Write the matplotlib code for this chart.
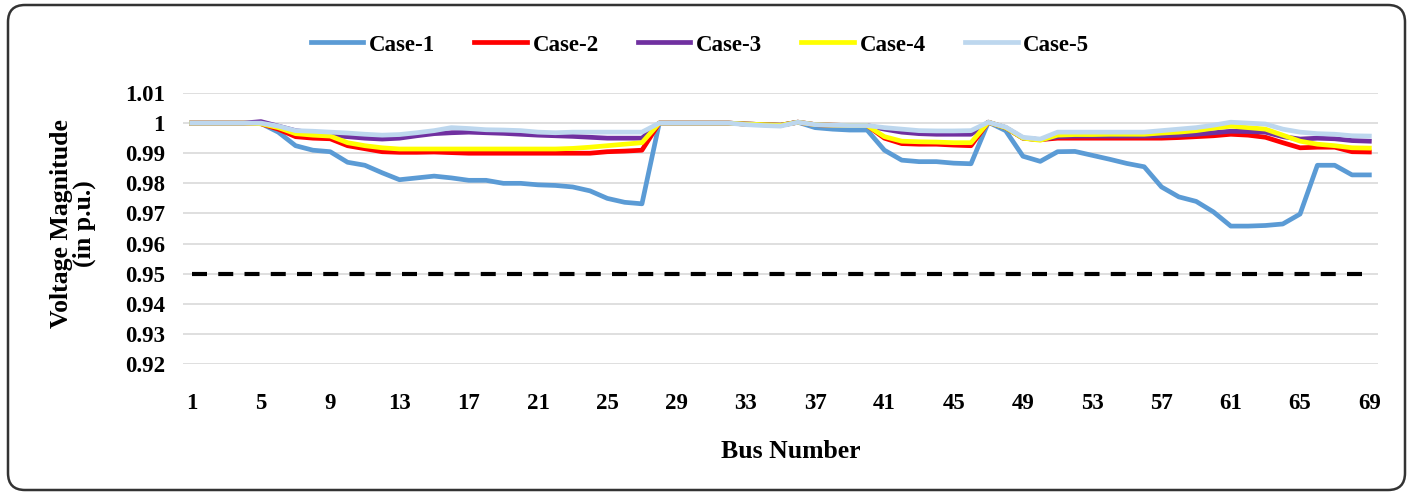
import numpy as np
import matplotlib.pyplot as plt
from matplotlib.patches import FancyBboxPatch

plt.rcParams['font.family'] = ['Liberation Serif', 'DejaVu Serif']
plt.rcParams['font.weight'] = 'bold'

# Bus numbers of the 69-bus system
bus = np.arange(1, 70)
xtick_buses = list(range(1, 70, 4))
ytick_vals = [0.92, 0.93, 0.94, 0.95, 0.96, 0.97, 0.98, 0.99, 1.00, 1.01]

# Voltage magnitudes (p.u.)
case1 = [1.0, 1.0, 1.0, 1.0, 0.9999, 0.997, 0.9925, 0.991, 0.9905, 0.987,
         0.986, 0.9835, 0.9812, 0.9818, 0.9824, 0.9818, 0.981, 0.981, 0.980, 0.980,
         0.9795, 0.9793, 0.9788, 0.9775, 0.975, 0.9737, 0.9732, 1.0, 1.0, 1.0,
         1.0, 1.0, 0.9997, 0.9995, 0.9993, 1.0003, 0.9985, 0.998, 0.9977, 0.9977,
         0.991, 0.9877, 0.9872, 0.9872, 0.9867, 0.9865, 1.0003, 0.9975, 0.989, 0.9873,
         0.9905, 0.9906, 0.9893, 0.988, 0.9866, 0.9855, 0.9788, 0.9755, 0.974, 0.9705,
         0.9658, 0.9658, 0.966, 0.9665, 0.9698, 0.986, 0.986, 0.9828, 0.9828]

case2 = [1.0, 1.0, 1.0, 1.0, 0.9998, 0.998, 0.9955, 0.995, 0.9948, 0.9925,
         0.9915, 0.9905, 0.9903, 0.9903, 0.9904, 0.9902, 0.990, 0.990, 0.990, 0.990,
         0.990, 0.990, 0.990, 0.990, 0.9905, 0.9907, 0.991, 1.0, 1.0, 1.0,
         1.0, 1.0, 0.9997, 0.9995, 0.9993, 1.0003, 0.9995, 0.9993, 0.9992, 0.9992,
         0.995, 0.9932, 0.993, 0.993, 0.9927, 0.9925, 1.0003, 0.9985, 0.995, 0.9945,
         0.995, 0.995, 0.995, 0.995, 0.995, 0.995, 0.995, 0.9952, 0.9955, 0.9958,
         0.9963, 0.996, 0.9953, 0.9935, 0.9918, 0.992, 0.992, 0.9905, 0.9904]

case3 = [1.0, 1.0, 1.0, 1.0, 1.0005, 0.999, 0.9975, 0.9968, 0.996, 0.9955,
         0.995, 0.9947, 0.995, 0.9958, 0.9965, 0.9968, 0.997, 0.9968, 0.9966, 0.9963,
         0.996, 0.9958, 0.9956, 0.9953, 0.995, 0.995, 0.995, 1.0, 1.0, 1.0,
         1.0, 1.0, 0.9997, 0.9995, 0.9993, 1.0003, 0.9995, 0.9993, 0.9992, 0.9992,
         0.998, 0.997, 0.9965, 0.9963, 0.9963, 0.9963, 1.0003, 0.9985, 0.995, 0.9945,
         0.9955, 0.9957, 0.9957, 0.9957, 0.9957, 0.9957, 0.9958, 0.996, 0.9963, 0.9968,
         0.9973, 0.9972, 0.997, 0.9955, 0.9947, 0.995, 0.9948, 0.9942, 0.994]

case4 = [1.0, 1.0, 1.0, 1.0, 0.9998, 0.9985, 0.9965, 0.996, 0.9957, 0.9935,
         0.9925, 0.9918, 0.9914, 0.9914, 0.9914, 0.9914, 0.9914, 0.9914, 0.9914, 0.9914,
         0.9914, 0.9914, 0.9916, 0.992, 0.9925, 0.993, 0.9935, 1.0, 1.0, 1.0,
         1.0, 1.0, 0.9997, 0.9995, 0.9993, 1.0003, 0.9995, 0.9993, 0.9992, 0.9992,
         0.9955, 0.994, 0.9938, 0.9937, 0.9935, 0.9935, 1.0003, 0.9985, 0.995, 0.9943,
         0.996, 0.9962, 0.9962, 0.9963, 0.9963, 0.9963, 0.9967, 0.997, 0.9975, 0.9983,
         0.999, 0.9985, 0.998, 0.996, 0.994, 0.993, 0.9925, 0.9918, 0.9917]

case5 = [1.0, 1.0, 1.0, 1.0, 1.0, 0.999, 0.9975, 0.9973, 0.997, 0.9967,
         0.9963, 0.996, 0.9962, 0.9968, 0.9975, 0.9985, 0.9982, 0.9978, 0.9977, 0.9975,
         0.997, 0.9968, 0.997, 0.997, 0.997, 0.997, 0.997, 1.0, 1.0, 1.0,
         1.0, 1.0, 0.9995, 0.9992, 0.999, 1.0003, 0.9995, 0.9993, 0.9992, 0.9992,
         0.9985, 0.998, 0.9975, 0.9974, 0.9974, 0.9975, 1.0003, 0.9987, 0.9953, 0.9947,
         0.997, 0.997, 0.997, 0.997, 0.997, 0.997, 0.9975, 0.998, 0.9985, 0.9993,
         1.0003, 1.0, 0.9997, 0.998, 0.997, 0.9965, 0.9963, 0.9958, 0.9957]

limit = [0.95] * len(bus)

labels = ['Case-1', 'Case-2', 'Case-3', 'Case-4', 'Case-5']
colors = ['#5B9BD5', '#FF0000', '#7030A0', '#FFFF00', '#BDD7EE']

fig = plt.figure(figsize=(14.13, 4.95), dpi=100)
ax = fig.add_axes([183/1413, 1 - 364/495, 1195/1413, 271/495])

for y in ytick_vals:
    ax.axhline(y, color='#D9D9D9', lw=1.2, zorder=0)

ax.plot(bus, limit, color='black', lw=3, dashes=(3.6, 2.7), dash_capstyle='butt', zorder=1)

handles = []
for vals, lab, col in zip([case1, case2, case3, case4, case5], labels, colors):
    h, = ax.plot(bus, vals, color=col, lw=3.4, label=lab, solid_joinstyle='round')
    handles.append(h)

ax.set_xlim(0.5, 69.5)
ax.set_ylim(0.92, 1.01)
ax.set_xticks(xtick_buses)
ax.set_yticks(ytick_vals)
ax.set_yticklabels([f'{v:g}' for v in ytick_vals])
ax.tick_params(length=0, labelsize=16.5)
ax.tick_params(axis='x', pad=21)
ax.tick_params(axis='y', pad=13)
for s in ax.spines.values():
    s.set_visible(False)

fig.text(73/1413, 1 - 224/495, 'Voltage Magnitude\n(in p.u.)', rotation=90,
         ha='center', va='center', multialignment='center', fontsize=18.5, linespacing=0.95)
fig.text(791/1413, 1 - 451/495, 'Bus Number', ha='center', va='center', fontsize=18.5)

fig.legend(handles=handles, loc='center', bbox_to_anchor=(700/1413, 1 - 45/495), ncol=5,
           frameon=False, fontsize=16.5, handlelength=2.3, handletextpad=0.25,
           columnspacing=1.7)

frame = FancyBboxPatch((8/1413, 5/495), 1397/1413, 485/495, transform=fig.transFigure,
                       boxstyle='round,pad=0,rounding_size=0.012', mutation_aspect=1413/495,
                       facecolor='none', edgecolor='#333333', lw=1.8)
fig.patches.append(frame)

fig.savefig('out.png', dpi=100)
